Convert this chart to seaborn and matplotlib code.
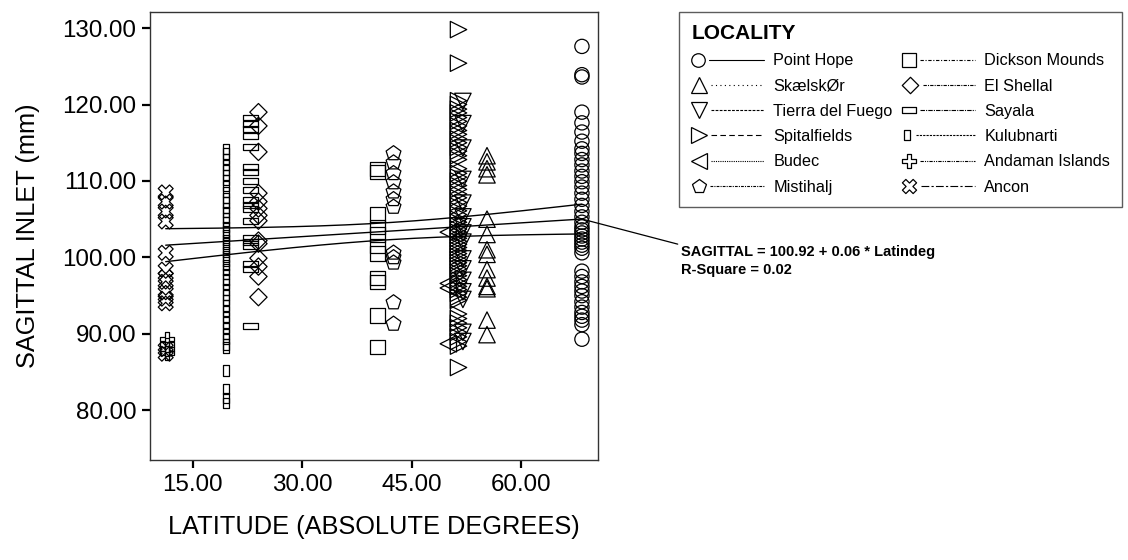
import numpy as np
import pandas as pd
import matplotlib
matplotlib.use("Agg")
import matplotlib.pyplot as plt
import seaborn as sns
from matplotlib.path import Path
from matplotlib.lines import Line2D
from matplotlib.legend_handler import HandlerBase

# ---------------- data ----------------
localities = ["Point Hope", "SkælskØr", "Tierra del Fuego", "Spitalfields", "Budec",
              "Mistihalj", "Dickson Mounds", "El Shellal", "Sayala", "Kulubnarti",
              "Andaman Islands", "Ancon"]
latitudes = [68.3, 55.3, 52.0, 51.4, 50.0, 42.5, 40.3, 24.0, 22.9, 19.6, 11.5, 11.3]

point_hope = [127.6, 123.9, 123.6, 119.0, 117.6, 116.4, 115.2, 114.2, 113.6, 112.8, 112.1,
              111.3, 110.6, 109.9, 109.2, 108.4, 107.6, 106.8, 106.0, 105.3, 104.6, 104.0,
              103.6, 103.2, 102.8, 102.4, 102.0, 101.6, 101.2, 100.6, 98.2, 97.5, 96.8,
              96.2, 95.6, 95.0, 94.2, 93.5, 92.8, 92.3, 91.8, 91.2, 89.3]
skaelskor = [113.3, 112.5, 111.6, 110.8, 105.0, 103.0, 101.0, 100.4, 98.4, 97.3, 96.2,
             95.9, 91.8, 89.9]
tierra_del_fuego = [120.4, 117.5, 114.3, 110.2, 107.1, 105.3, 104.0, 103.2, 102.0, 99.8,
                    98.5, 97.0, 95.5, 94.5, 90.2, 89.0]
spitalfields = [129.8, 125.4, 120.5, 120.0, 119.4, 118.9, 118.3, 117.8, 117.2, 116.6,
                116.1, 115.5, 115.0, 114.4, 113.9, 113.3, 112.8, 111.6, 111.0, 110.5,
                110.0, 109.4, 108.9, 108.3, 107.8, 107.2, 106.7, 106.1, 105.6, 105.0,
                104.6, 104.1, 103.7, 103.3, 102.9, 102.5, 102.1, 101.7, 101.3, 100.9,
                100.5, 100.1, 99.7, 99.3, 98.9, 98.5, 98.0, 97.6, 97.1, 96.7, 96.2, 95.8,
                95.3, 94.8, 94.4, 92.6, 92.0, 91.4, 90.8, 90.2, 89.6, 89.0, 88.4, 85.6]
budec = [103.3, 96.6, 96.0, 88.7]
mistihalj = [113.6, 112.4, 111.0, 109.8, 108.6, 107.6, 106.6, 100.6, 100.0, 99.3, 94.1, 91.3]
dickson_mounds = [111.6, 111.2, 105.6, 104.0, 103.0, 101.5, 100.5, 97.3, 96.8, 92.4, 88.3]
el_shellal = [119.0, 117.2, 113.8, 108.4, 107.3, 106.4, 105.5, 104.8, 102.2, 101.8, 99.9,
              98.8, 97.5, 94.8]
sayala = [118.3, 117.5, 116.8, 115.9, 114.5, 111.8, 111.2, 110.0, 108.8, 107.5, 106.8,
          106.3, 104.8, 102.5, 102.0, 101.5, 99.2, 98.5, 91.0]
kulubnarti = [114.2, 113.6, 112.9, 112.1, 111.4, 110.8, 110.1, 109.3, 108.6, 107.8, 107.2,
              106.5, 105.9, 105.2, 104.6, 104.0, 103.4, 102.9, 102.3, 101.8, 101.2, 100.7,
              100.1, 99.6, 99.0, 98.4, 97.8, 97.1, 96.5, 95.8, 95.1, 94.4, 93.7, 93.0,
              92.2, 91.5, 90.8, 90.0, 89.3, 88.6, 88.2, 85.2, 82.8, 81.6, 81.0]
andaman_islands = [89.3, 88.6, 88.0, 87.5]
ancon = [108.5, 107.3, 106.0, 104.7, 100.6, 98.4, 97.4, 96.8, 95.4, 94.6, 94.0, 88.0, 87.4]

sagittal_values = [point_hope, skaelskor, tierra_del_fuego, spitalfields, budec, mistihalj,
                   dickson_mounds, el_shellal, sayala, kulubnarti, andaman_islands, ancon]

fit_intercept = 100.92
fit_slope = 0.06
r_square = 0.02

x_ticks = [15, 30, 45, 60]
y_ticks = [80, 90, 100, 110, 120, 130]

rows = []
for loc, lat, vals in zip(localities, latitudes, sagittal_values):
    for v in vals:
        rows.append({"Locality": loc, "Latindeg": lat, "SAGITTAL": v})
df = pd.DataFrame(rows)

# ---------------- marker shapes ----------------
def closed(verts):
    verts = list(verts)
    return Path(verts + [verts[0]], closed=True)

a = 0.32
plus_verts = [(-a, 1), (a, 1), (a, a), (1, a), (1, -a), (a, -a), (a, -1), (-a, -1),
              (-a, -a), (-1, -a), (-1, a), (-a, a)]
c = np.sqrt(0.5)
x_verts = [((x - y) * c, (x + y) * c) for x, y in plus_verts]

marker_map = {
    "Point Hope": "o",
    "SkælskØr": "^",
    "Tierra del Fuego": "v",
    "Spitalfields": ">",
    "Budec": "<",
    "Mistihalj": "p",
    "Dickson Mounds": "s",
    "El Shellal": closed([(0, 1), (1, 0), (0, -1), (-1, 0)]),
    "Sayala": closed([(-1, -0.42), (1, -0.42), (1, 0.42), (-1, 0.42)]),
    "Kulubnarti": closed([(-0.6, -1), (0.6, -1), (0.6, 1), (-0.6, 1)]),
    "Andaman Islands": closed(plus_verts),
    "Ancon": closed(x_verts),
}
size_map = {
    "Point Hope": 105, "SkælskØr": 140, "Tierra del Fuego": 140, "Spitalfields": 140,
    "Budec": 140, "Mistihalj": 125, "Dickson Mounds": 105, "El Shellal": 155,
    "Sayala": 105, "Kulubnarti": 55, "Andaman Islands": 100, "Ancon": 115,
}
line_map = {
    "Point Hope": "-",
    "SkælskØr": (0, (1, 3)),
    "Tierra del Fuego": (0, (2.5, 1.2)),
    "Spitalfields": (0, (5, 3)),
    "Budec": (0, (1, 1)),
    "Mistihalj": (0, (2.5, 1, 1, 1)),
    "Dickson Mounds": (0, (3, 1.5, 1, 1.5)),
    "El Shellal": (0, (3, 1, 1, 1)),
    "Sayala": (0, (4, 1, 1, 1)),
    "Kulubnarti": (0, (2, 1)),
    "Andaman Islands": (0, (3, 1, 1, 1, 1, 1)),
    "Ancon": (0, (7, 2, 2, 2)),
}

# ---------------- figure ----------------
sns.set_style("white")
plt.rcParams["font.family"] = ["Liberation Sans", "DejaVu Sans"]
plt.rcParams["text.color"] = "black"
plt.rcParams["axes.labelcolor"] = "black"
plt.rcParams["xtick.color"] = "black"
plt.rcParams["ytick.color"] = "black"

W, H = 1128, 560
fig = plt.figure(figsize=(W / 100, H / 100), dpi=100)
ax = fig.add_axes([150 / W, 1 - 460 / H, 448 / W, 448 / H])

sns.scatterplot(data=df, x="Latindeg", y="SAGITTAL", style="Locality",
                markers=marker_map, size="Locality", sizes=size_map,
                color="black", legend=False, ax=ax, zorder=3)
for coll in ax.collections:
    coll.set_facecolor("none")
    coll.set_edgecolor("black")
    coll.set_linewidth(0.9)

# regression line with 95% confidence bands for the mean
xs = df["Latindeg"].to_numpy()
ys = df["SAGITTAL"].to_numpy()
n = len(xs)
resid = ys - (fit_intercept + fit_slope * xs)
s_err = np.sqrt(np.sum(resid ** 2) / (n - 2))
xbar = xs.mean()
sxx = np.sum((xs - xbar) ** 2)
xg = np.linspace(xs.min(), xs.max(), 200)
yg = fit_intercept + fit_slope * xg
half = 1.97 * s_err * np.sqrt(1 / n + (xg - xbar) ** 2 / sxx)
for yy in (yg, yg + half, yg - half):
    ax.plot(xg, yy, color="black", lw=1.0, zorder=4)

ax.set_xlim(9.15, 70.5)
ax.set_ylim(73.5, 132.1)
ax.set_xticks(x_ticks)
ax.set_yticks(y_ticks)
ax.set_xticklabels([f"{t:.2f}" for t in x_ticks])
ax.set_yticklabels([f"{t:.2f}" for t in y_ticks])
ax.tick_params(axis="both", direction="out", length=6, width=1.6, color="black",
               labelcolor="black", labelsize=17.4, pad=4, left=True, bottom=True)
for sp in ax.spines.values():
    sp.set_color("#333333")
    sp.set_linewidth(1.0)
ax.set_xlabel("LATITUDE (ABSOLUTE DEGREES)", fontsize=18.3, labelpad=14, color="black")
ax.set_ylabel("SAGITTAL INLET (mm)", fontsize=18.3, labelpad=16, color="black")

# annotation for the fit
ax.annotate(f"SAGITTAL = {fit_intercept:.2f} + {fit_slope:.2f} * Latindeg\nR-Square = {r_square:.2f}",
            xy=(xg[-1], yg[-1]), xycoords="data",
            xytext=(681, H - 245), textcoords="figure pixels",
            ha="left", va="top", fontsize=10.5, fontweight="bold", linespacing=1.35,
            color="black",
            arrowprops=dict(arrowstyle="-", color="black", lw=0.9, shrinkA=0, shrinkB=0,
                            relpos=(0, 1)),
            annotation_clip=False)

# legend with marker at left and line sample on the right
class MarkerLineHandler(HandlerBase):
    def create_artists(self, legend, orig_handle, xdescent, ydescent, width, height,
                       fontsize, trans):
        y = height / 2 - ydescent
        x0 = -xdescent
        ms = orig_handle.get_markersize()
        mk = Line2D([x0 + ms / 2], [y], marker=orig_handle.get_marker(),
                    markersize=ms, markerfacecolor="none", markeredgecolor="black",
                    markeredgewidth=0.9, linestyle="none")
        ln = Line2D([x0 + ms + 3, x0 + width], [y, y], color="black", lw=0.8,
                    linestyle=line_map[orig_handle.get_label()])
        mk.set_transform(trans)
        ln.set_transform(trans)
        return [mk, ln]

legend_ms = {k: np.sqrt(v) * 0.95 for k, v in size_map.items()}
handles = [Line2D([], [], marker=marker_map[k], markersize=legend_ms[k], color="black",
                  label=k) for k in localities]
leg = fig.legend(handles=handles, labels=localities, ncol=2, loc="upper left",
                 bbox_to_anchor=(679 / W, 1 - 12 / H), bbox_transform=fig.transFigure,
                 handler_map={Line2D: MarkerLineHandler()}, handlelength=4.5,
                 handletextpad=0.55, columnspacing=0.6, labelspacing=0.63,
                 fontsize=11.7, title="LOCALITY", alignment="left",
                 title_fontproperties={"weight": "bold", "size": 15},
                 frameon=True, fancybox=False, borderaxespad=0, borderpad=0.75)
leg.get_frame().set_edgecolor("#333333")
leg.get_frame().set_linewidth(1.0)

fig.savefig("out.png", dpi=100, facecolor="white")
